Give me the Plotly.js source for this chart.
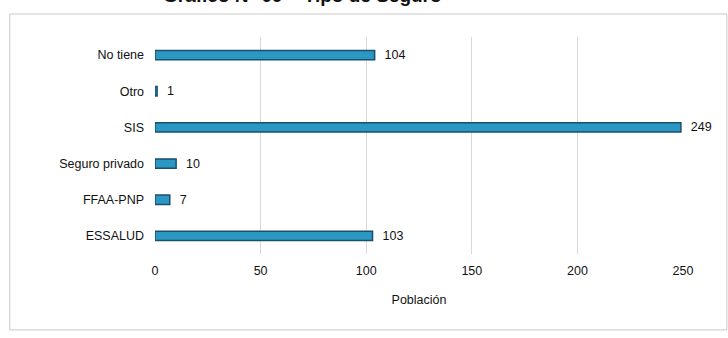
<!DOCTYPE html>
<html>
<head>
<meta charset="utf-8">
<script src="https://cdn.plot.ly/plotly-3.0.1.min.js"></script>
<style>html,body{margin:0;padding:0;background:#fff;}#chart{width:728px;height:338px;}</style>
</head>
<body>
<div id="chart"></div>
<script>
const categories = ["ESSALUD", "FFAA-PNP", "Seguro privado", "SIS", "Otro", "No tiene"];
const poblacion = [103, 7, 10, 249, 1, 104];
const tickValues = [0, 50, 100, 150, 200, 250];
const titleText = "Gráfico N° 09 – Tipo de Seguro";
const xTitle = "Población";

const FONT = "'Liberation Sans Narrow', 'Arial Narrow', 'Liberation Sans', Arial, sans-serif";
const FS = 12.5;
const INK = "#111111";

const trace = {
  type: "bar",
  orientation: "h",
  y: categories,
  x: poblacion,
  width: 0.26,
  marker: { color: "#2b97c3", line: { color: "#1b4f6e", width: 1.5 } },
  texttemplate: "  %{x}",
  textposition: "outside",
  constraintext: "none",
  cliponaxis: false,
  textfont: { family: FONT, size: FS, color: INK },
  hoverinfo: "none"
};

const layout = {
  width: 728, height: 338,
  margin: { l: 155, r: 45, t: 37, b: 84 },
  paper_bgcolor: "#ffffff",
  plot_bgcolor: "#ffffff",
  showlegend: false,
  font: { family: FONT, size: FS, color: INK },
  xaxis: {
    range: [0, 250],
    tickvals: tickValues,
    ticktext: tickValues.map(String),
    showgrid: true, gridcolor: "#d8d8d8", gridwidth: 1,
    zeroline: false, showline: false,
    ticks: "", ticklabelstandoff: 7,
    tickfont: { family: FONT, size: FS, color: INK },
    title: { text: xTitle, standoff: 18, font: { family: FONT, size: FS, color: INK } }
  },
  yaxis: {
    showgrid: false, zeroline: false, showline: false, ticks: "",
    ticklabelstandoff: 10,
    tickfont: { family: FONT, size: FS, color: INK },
    automargin: false
  },
  shapes: [
    { type: "rect", xref: "paper", yref: "paper",
      x0: -0.275, x1: 1.083, y0: -0.35, y1: 1.106,
      line: { color: "#c8c8c8", width: 1 }, fillcolor: "rgba(0,0,0,0)", layer: "below" }
  ],
  annotations: [
    { text: "<b>" + titleText + "</b>", xref: "paper", yref: "paper",
      x: 0.28, y: 1.135, xanchor: "center", yanchor: "bottom", showarrow: false,
      font: { family: "'Liberation Sans', Arial, sans-serif", size: 19, color: INK } }
  ]
};

Plotly.newPlot("chart", [trace], layout, { staticPlot: true, displayModeBar: false });
</script>
</body>
</html>
